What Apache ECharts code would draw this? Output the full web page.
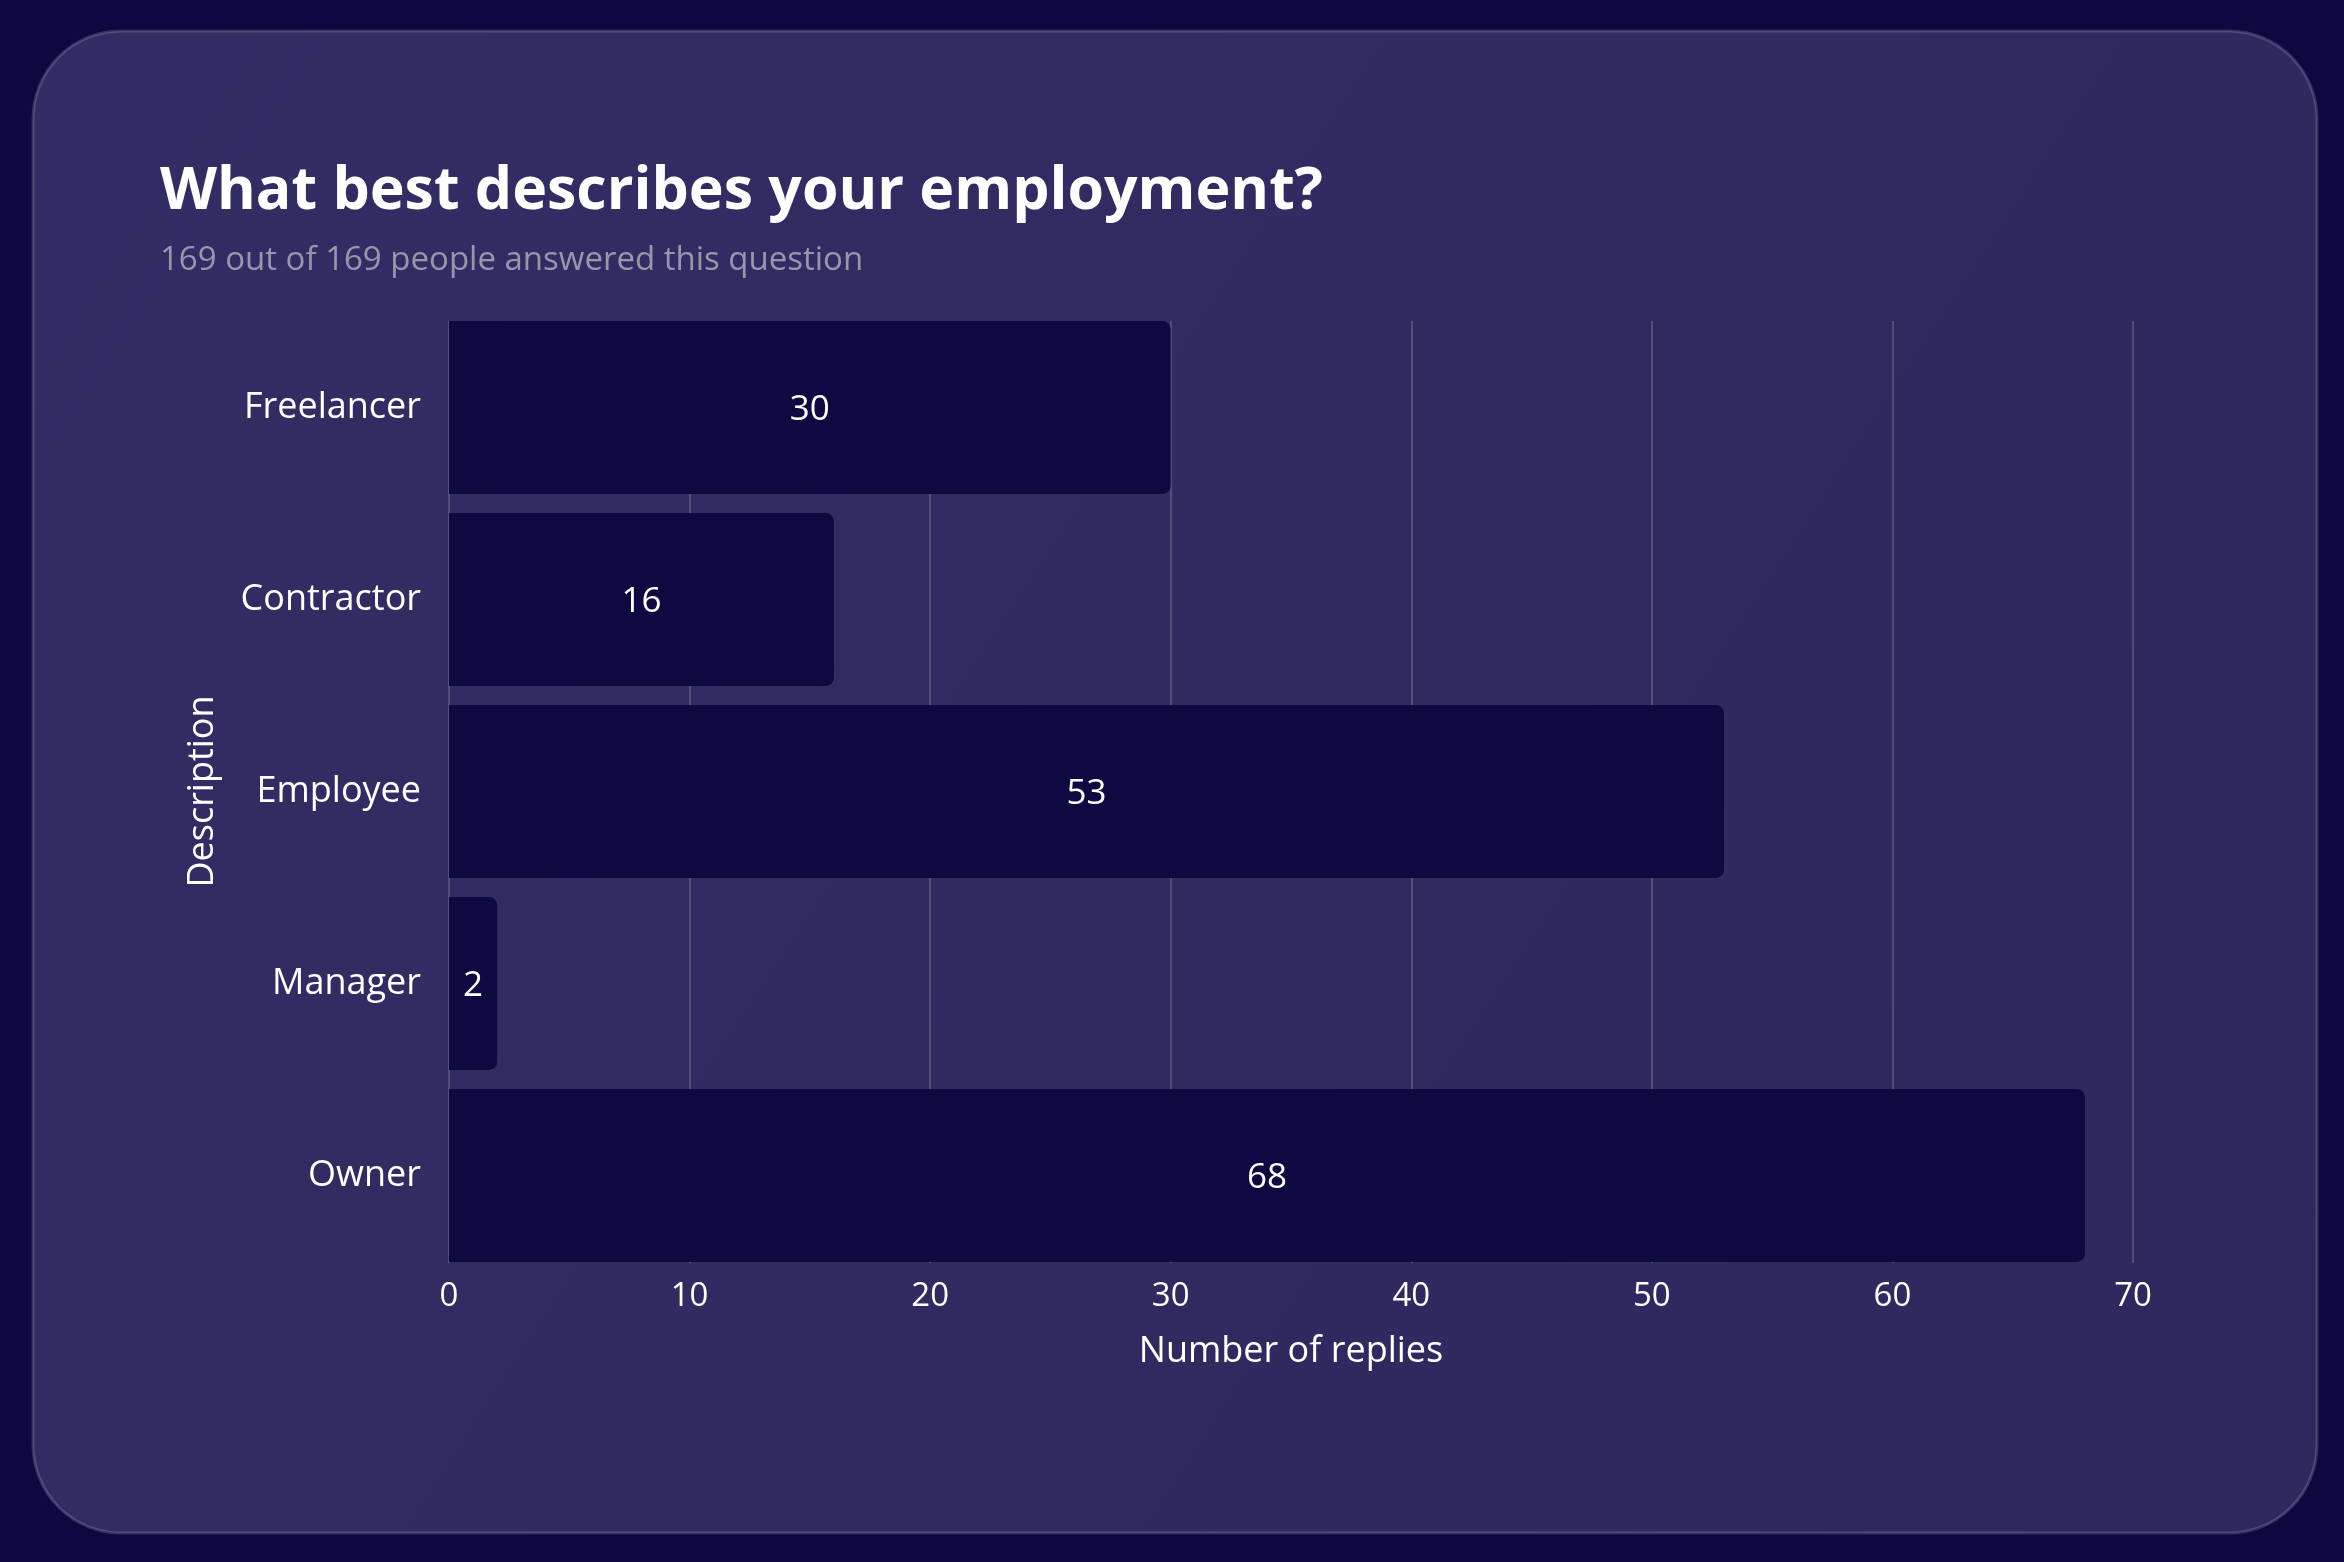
<!DOCTYPE html>
<html>
<head>
<meta charset="utf-8">
<script src="https://cdn.jsdelivr.net/npm/echarts@6/dist/echarts.min.js"></script>
<style>
  html, body { margin: 0; padding: 0; background: #0d0940; }
  #chart { width: 2344px; height: 1562px; }
</style>
</head>
<body>
<div id="chart"></div>
<script>
const categories = ['Freelancer', 'Contractor', 'Employee', 'Manager', 'Owner'];
const replies = [30, 16, 53, 2, 68];
const xTicks = { min: 0, max: 70, interval: 10 };
const titleText = 'What best describes your employment?';
const subtitleText = '169 out of 169 people answered this question';
const xAxisName = 'Number of replies';
const yAxisName = 'Description';

const FONT = '"Open Sans", "Noto Sans", sans-serif';
const chart = echarts.init(document.getElementById('chart'), null, { renderer: 'canvas' });

const option = {
  backgroundColor: '#0d0940',
  graphic: [{
    type: 'rect',
    z: -10,
    shape: { x: 33, y: 31, width: 2284, height: 1502, r: 88 },
    style: {
      fill: new echarts.graphic.LinearGradient(0, 0, 1, 1, [
        { offset: 0, color: '#332d65' },
        { offset: 1, color: '#2e285e' }
      ]),
      stroke: 'rgba(255,255,255,0.16)',
      lineWidth: 3
    }
  }],
  title: [{
    text: titleText,
    left: 155,
    top: 158,
    textStyle: { color: '#ffffff', fontSize: 59, fontWeight: 'bold', fontFamily: FONT }
  }, {
    text: subtitleText,
    left: 155,
    top: 239,
    textStyle: { color: '#9a96aa', fontSize: 33, fontWeight: 'normal', fontFamily: FONT }
  }],
  grid: [
    { left: 449, right: 211, top: 311.5, bottom: 290.5, containLabel: false },
    { left: 449, right: 211, top: 321, bottom: 299, containLabel: false }
  ],
  xAxis: [{
    type: 'value',
    gridIndex: 0,
    min: xTicks.min, max: xTicks.max, interval: xTicks.interval,
    splitLine: { show: false },
    axisLine: { show: false },
    axisTick: { show: false },
    axisLabel: { color: '#ffffff', fontSize: 33, fontFamily: FONT, margin: 9 },
    name: xAxisName,
    nameLocation: 'middle',
    nameGap: 62,
    nameTextStyle: { color: '#ffffff', fontSize: 36, fontFamily: FONT }
  }, {
    type: 'value',
    gridIndex: 1,
    min: xTicks.min, max: xTicks.max, interval: xTicks.interval,
    splitLine: { show: true, lineStyle: { color: 'rgba(255,255,255,0.22)', width: 1.5 } },
    axisLine: { show: false },
    axisTick: { show: false },
    axisLabel: { show: false }
  }],
  yAxis: [{
    type: 'category',
    gridIndex: 0,
    data: categories,
    inverse: true,
    axisLine: { show: false },
    axisTick: { show: false },
    axisLabel: { color: '#ffffff', fontSize: 36, fontFamily: FONT, margin: 28 },
    name: yAxisName,
    nameLocation: 'middle',
    nameGap: 228,
    nameRotate: 90,
    nameTextStyle: { color: '#ffffff', fontSize: 36, fontFamily: FONT }
  }, {
    type: 'value',
    gridIndex: 1,
    show: false,
    min: 0, max: 1
  }],
  series: [{
    type: 'bar',
    xAxisIndex: 0,
    yAxisIndex: 0,
    data: replies,
    barCategoryGap: '10%',
    itemStyle: { color: '#0e0940', borderRadius: [0, 8, 8, 0] },
    label: {
      show: true,
      position: 'inside',
      color: '#ffffff',
      fontSize: 35,
      fontFamily: FONT,
      offset: [0, 3]
    },
    silent: true
  }],
  animation: false
};
chart.setOption(option);
</script>
</body>
</html>
